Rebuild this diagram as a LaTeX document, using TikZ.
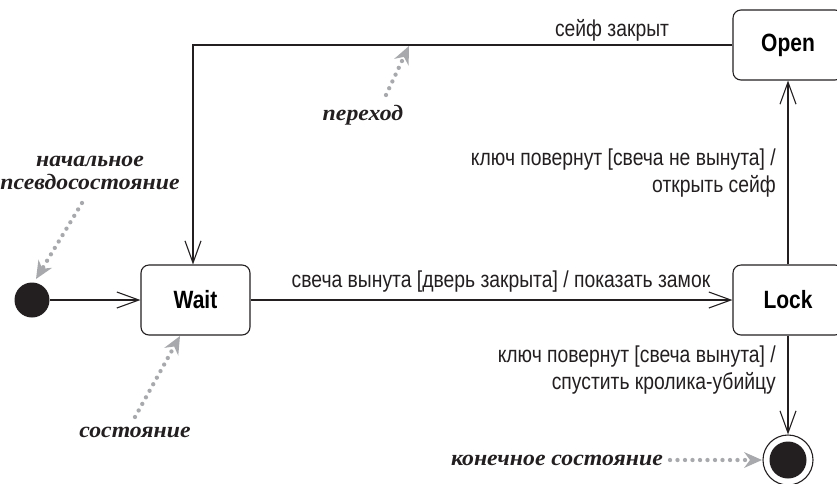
\documentclass[tikz,border=0pt]{standalone}
\usepackage{fontspec}
\setmainfont{Liberation Sans}[FakeStretch=0.84]
\newfontfamily\scr{Liberation Serif}[FakeStretch=1.08]
\usetikzlibrary{arrows.meta}
\definecolor{ink}{HTML}{231F20}
\definecolor{notegray}{HTML}{A7A9AC}
\tikzset{
  statebox/.style={draw=ink, line width=1.1pt, rounded corners=8pt, minimum width=109pt, minimum height=70pt, inner sep=0pt, font=\fontsize{25}{28}\selectfont\bfseries},
  trans/.style={draw=ink, line width=1.1pt, -{Straight Barb[length=22pt,width=16pt,line width=1.1pt]}},
  lbl/.style={inner sep=0pt, text=ink, font=\fontsize{23}{27}\selectfont},
  scrlbl/.style={inner sep=0pt, text=ink, font=\fontsize{22}{23.5}\selectfont\scr\bfseries\itshape},
  note/.style={draw=notegray, line width=4.3pt, line cap=round, dash pattern=on 0pt off 7.5pt, -{Stealth[length=18pt,width=16pt,inset=6pt,fill=notegray,line width=0pt]}},
}
\begin{document}
\begin{tikzpicture}[x=1pt,y=-1pt]
\clip (0,0) rectangle (837,483);
\fill[white] (0,0) rectangle (837,483);

% states
\node[statebox] (wait) at (195.5,300) {Wait};
\node[statebox, minimum width=110pt] (lock) at (788,300) {Lock};
\node[statebox, minimum width=110pt] (open) at (788,45) {Open};

% pseudostates
\node[circle, fill=ink, minimum size=35pt, inner sep=0pt] (init) at (32,300) {};
\node[circle, draw=ink, line width=1.1pt, minimum size=50pt, inner sep=0pt] (final) at (788,460) {};
\node[circle, fill=ink, minimum size=37pt, inner sep=0pt] (finaldot) at (final.center) {};

% transitions
\draw[trans] (init) -- (wait);
\draw[trans] (wait) -- (lock);
\draw[trans] (open.west) -| ([xshift=-2.5pt]wait.north);
\draw[trans] (lock) -- (open);
\draw[trans] (lock) -- (final);

% labels
\node[lbl] (l1) at (612,30) {сейф закрыт};
\node[lbl, anchor=east, align=right] (l2) at (776,173) {ключ повернут [свеча не вынута] /\\открыть сейф};
\node[lbl] (l3) at (501,282) {свеча вынута [дверь закрыта] / показать замок};
\node[lbl, anchor=east, align=right] (l4) at (776,370) {ключ повернут [свеча вынута] /\\спустить кролика-убийцу};

% annotations
\node[scrlbl] (n1) at (363,115) {переход};
\node[scrlbl, align=center] (n2) at (90,173) {начальное\\псевдосостояние};
\node[scrlbl] (n3) at (135,432) {состояние};
\node[scrlbl, anchor=east] (n4) at (663,460) {конечное состояние};

\coordinate (a1s) at (386,95);  \coordinate (a1e) at (409,46);
\coordinate (a2s) at (82,203);  \coordinate (a2e) at (36,279);
\coordinate (a3s) at (135,417); \coordinate (a3e) at (180,336);
\coordinate (a4s) at (670,460); \coordinate (a4e) at (762,460);
\draw[note] (a1s) -- (a1e);
\draw[note] (a2s) -- (a2e);
\draw[note] (a3s) -- (a3e);
\draw[note] (a4s) -- (a4e);
\end{tikzpicture}
\end{document}
